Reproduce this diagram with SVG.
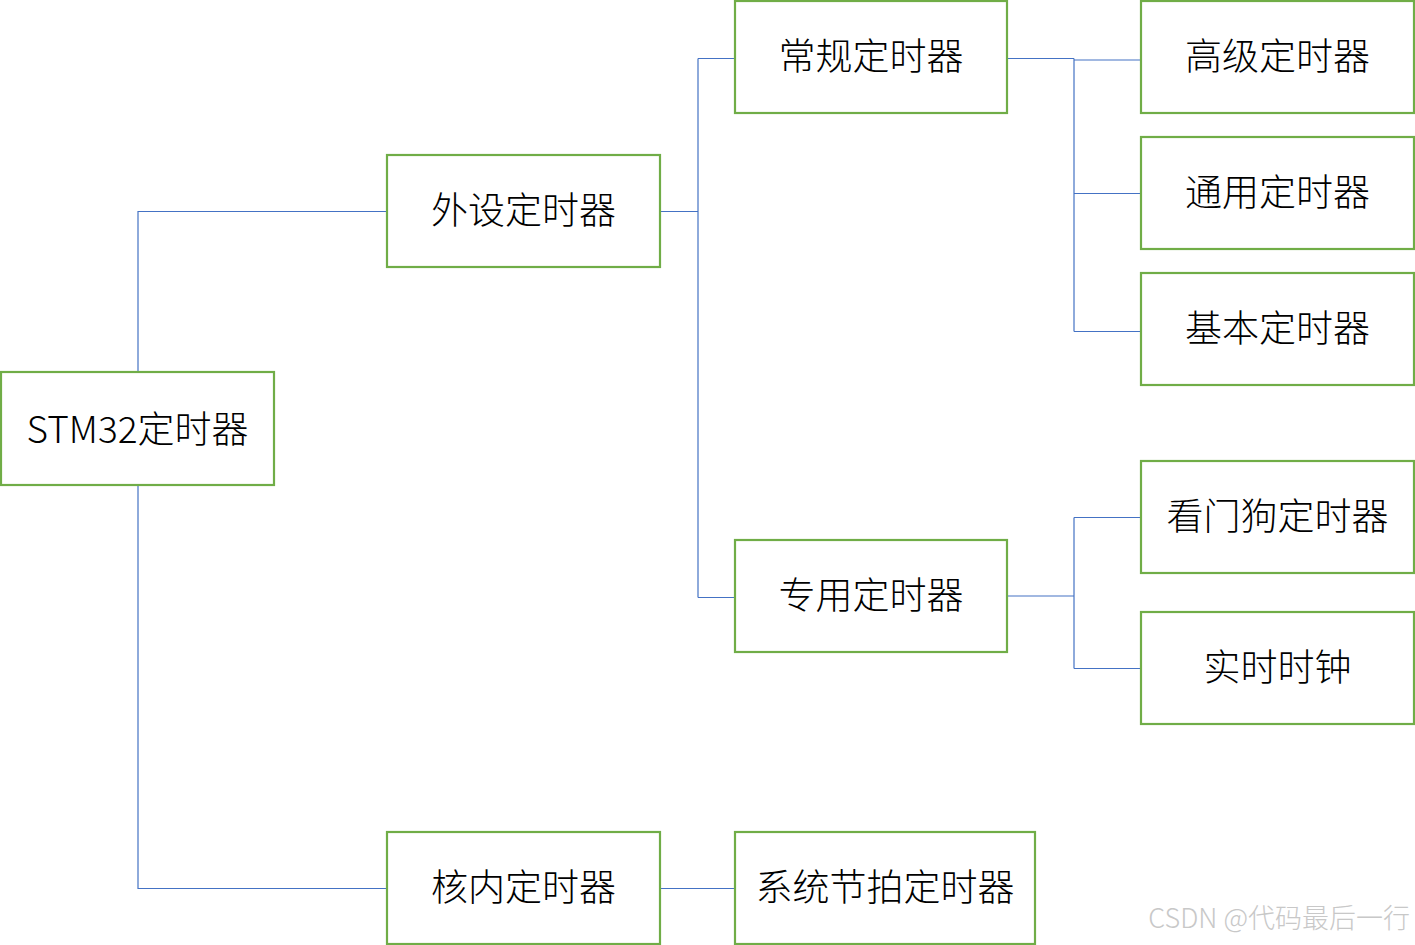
<svg xmlns="http://www.w3.org/2000/svg" width="1415" height="945" viewBox="0 0 1415 945">
<style>
.box{fill:#fff;stroke:#70AD47;stroke-width:2.2}
.lbl{font-family:"Noto Sans CJK SC","Noto Sans",sans-serif;font-size:37px;font-weight:300;fill:#000;text-anchor:middle;dominant-baseline:central}
.con{fill:none;stroke:#4472C4;stroke-width:1.2}
.wm{font-family:"Noto Sans CJK SC","Noto Sans",sans-serif;font-size:27px;font-weight:300;fill:#c8c8c8;text-anchor:end}
</style>
<rect width="1415" height="945" fill="#fff"/>
<g id="connectors">
<path class="con" d="M138,372 V211.5 H387"/>
<path class="con" d="M138,485 V888.5 H387"/>
<path class="con" d="M660,211.5 H698 M698,58.5 V597.5 M698,58.5 H735 M698,597.5 H735"/>
<path class="con" d="M1007,58.5 H1074 M1074,58.5 V331.5 M1074,60 H1141 M1074,193.5 H1141 M1074,331.5 H1141"/>
<path class="con" d="M1007,596 H1074 M1074,517.5 V668.5 M1074,517.5 H1141 M1074,668.5 H1141"/>
<path class="con" d="M660,888.5 H735"/>
</g>
<g id="stm32"><rect class="box" x="1" y="372" width="273" height="113"/><text class="lbl" x="137.5" y="427">STM32定时器</text></g>
<g id="waishe"><rect class="box" x="387" y="155" width="273" height="112"/><text class="lbl" x="523.5" y="208">外设定时器</text></g>
<g id="changgui"><rect class="box" x="735" y="1" width="272" height="112"/><text class="lbl" x="871" y="54">常规定时器</text></g>
<g id="zhuanyong"><rect class="box" x="735" y="540" width="272" height="112"/><text class="lbl" x="871" y="593">专用定时器</text></g>
<g id="hennei"><rect class="box" x="387" y="832" width="273" height="112"/><text class="lbl" x="523.5" y="885">核内定时器</text></g>
<g id="xitong"><rect class="box" x="735" y="832" width="300" height="112"/><text class="lbl" x="885" y="885">系统节拍定时器</text></g>
<g id="gaoji"><rect class="box" x="1141" y="1" width="273" height="112"/><text class="lbl" x="1277.5" y="54">高级定时器</text></g>
<g id="tongyong"><rect class="box" x="1141" y="137" width="273" height="112"/><text class="lbl" x="1277.5" y="190">通用定时器</text></g>
<g id="jiben"><rect class="box" x="1141" y="273" width="273" height="112"/><text class="lbl" x="1277.5" y="326">基本定时器</text></g>
<g id="kanmengou"><rect class="box" x="1141" y="461" width="273" height="112"/><text class="lbl" x="1277.5" y="514">看门狗定时器</text></g>
<g id="shishi"><rect class="box" x="1141" y="612" width="273" height="112"/><text class="lbl" x="1277.5" y="665">实时时钟</text></g>
<text class="wm" x="1410" y="928">CSDN @代码最后一行</text>
</svg>
